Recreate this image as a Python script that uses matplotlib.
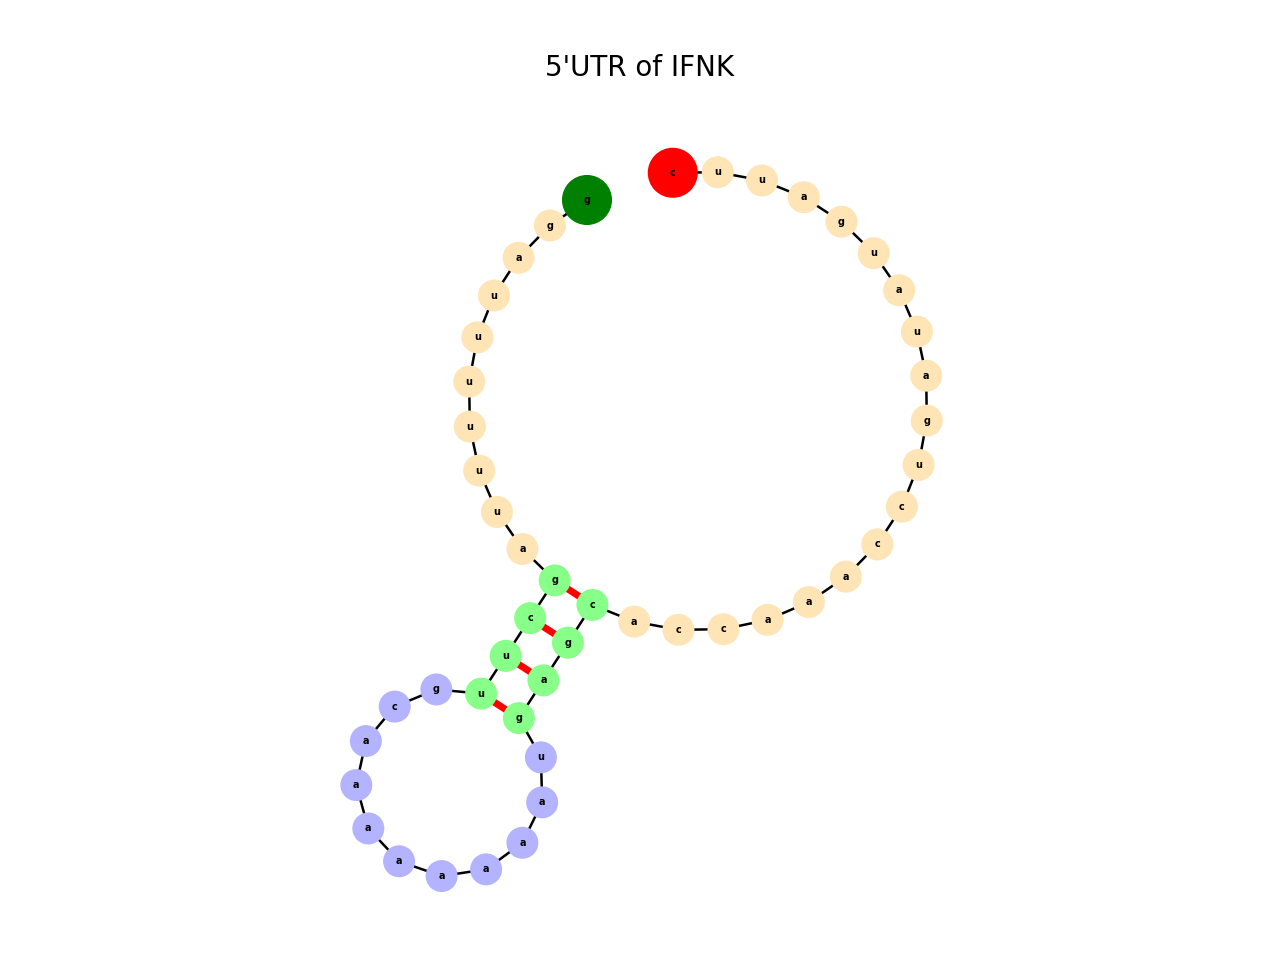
import numpy as np
import matplotlib
matplotlib.use("Agg")
import matplotlib.pyplot as plt

# ==========================================
# DATA
# ==========================================
TITLE = "5'UTR of IFNK"
SEQUENCE = "cuuaguauaguccaaaccacgaguaaaaaaaacguucgauuuuuuagg"
STRUCTURE = "...................((((...........))))........."

# region colours
COL_EXT = "moccasin"
COL_STEM = "#88ff88"
COL_LOOP = "#b3b3ff"
COL_START = "red"
COL_END = "green"

PX_PER_UNIT = 45.0
CENTER_PX = (698, 401)
GAP = 2.0
STEM_ANGLE = np.deg2rad(-123.0)


def pair_table(db):
    stack, pairs = [], {}
    for i, ch in enumerate(db):
        if ch == "(":
            stack.append(i)
        elif ch == ")":
            j = stack.pop()
            pairs[i] = j
            pairs[j] = i
    return pairs


def circle_radius(lengths):
    lo, hi = max(lengths) / 2 + 1e-9, 100.0
    for _ in range(200):
        r = (lo + hi) / 2
        tot = sum(2 * np.arcsin(l / (2 * r)) for l in lengths)
        if tot > 2 * np.pi:
            lo = r
        else:
            hi = r
    return r


def layout(seq, db):
    n = len(seq)
    pairs = pair_table(db)
    pos = np.zeros((n, 2))
    # exterior loop: all unpaired-outside nodes plus the outermost pair
    first = db.index("(")
    last = pairs[first]
    ext = list(range(0, first + 1)) + list(range(last, n))
    lengths = [1.0] * (len(ext) - 1) + [GAP]
    R = circle_radius(lengths)
    ang = 0.0
    for k, idx in enumerate(ext):
        pos[idx] = R * np.array([np.cos(ang), np.sin(ang)])
        ang -= 2 * np.arcsin(lengths[k] / (2 * R))
    # rotate so that the stem points the right way
    mid = (pos[first] + pos[last]) / 2
    rot = STEM_ANGLE - np.arctan2(mid[1], mid[0])
    c, s = np.cos(rot), np.sin(rot)
    M = np.array([[c, -s], [s, c]])
    for idx in ext:
        pos[idx] = M @ pos[idx]
    mid = (pos[first] + pos[last]) / 2
    d = mid / np.linalg.norm(mid)
    # stem
    i, j, k = first, last, 0
    while i < j and pairs.get(i) == j:
        pos[i] = pos[first] + k * d
        pos[j] = pos[last] + k * d
        i, j, k = i + 1, j - 1, k + 1
    ci, cj = i - 1, j + 1
    # hairpin loop
    m = cj - ci + 1
    rh = 1.0 / (2 * np.sin(np.pi / m))
    hmid = (pos[ci] + pos[cj]) / 2
    hc = hmid + d * rh * np.cos(np.pi / m)
    a0 = np.arctan2(*(pos[ci] - hc)[::-1])
    a1 = np.arctan2(*(pos[cj] - hc)[::-1])
    step = 2 * np.pi / m
    if abs(np.angle(np.exp(1j * (a0 + (m - 1) * step - a1)))) > 1e-3:
        step = -step
    for t, idx in enumerate(range(ci, cj + 1)):
        a = a0 + t * step
        pos[idx] = hc + rh * np.array([np.cos(a), np.sin(a)])
    return pos, pairs


pos, pairs = layout(SEQUENCE, STRUCTURE)
n = len(SEQUENCE)
first = STRUCTURE.index("(")
last = pairs[first]

colors, sizes = [], []
for i in range(n):
    if i == 0:
        colors.append(COL_START); sizes.append(1300)
    elif i == n - 1:
        colors.append(COL_END); sizes.append(1300)
    elif i in pairs:
        colors.append(COL_STEM); sizes.append(530)
    elif first < i < last:
        colors.append(COL_LOOP); sizes.append(530)
    else:
        colors.append(COL_EXT); sizes.append(530)

fig = plt.figure(figsize=(12.8, 9.6), dpi=100)
ax = fig.add_axes([0, 0, 1, 1])
cx, cy = CENTER_PX
ax.set_xlim(-cx / PX_PER_UNIT, (1280 - cx) / PX_PER_UNIT)
ax.set_ylim(-(960 - cy) / PX_PER_UNIT, cy / PX_PER_UNIT)
ax.set_aspect("equal")
ax.axis("off")

for i in range(n - 1):
    ax.plot(pos[i:i + 2, 0], pos[i:i + 2, 1], color="black", lw=1.8, zorder=1)
for i, j in pairs.items():
    if i < j:
        ax.plot([pos[i, 0], pos[j, 0]], [pos[i, 1], pos[j, 1]],
                color="red", lw=5, zorder=1)

ax.scatter(pos[:, 0], pos[:, 1], s=sizes, c=colors, zorder=2, linewidths=0)
for i, ch in enumerate(SEQUENCE):
    ax.text(pos[i, 0], pos[i, 1], ch, ha="center", va="center",
            fontsize=7, fontweight="bold", zorder=3)

fig.text(0.5, 1 - 68 / 960, TITLE, ha="center", va="center", fontsize=20)
fig.savefig("out.png", dpi=100)
